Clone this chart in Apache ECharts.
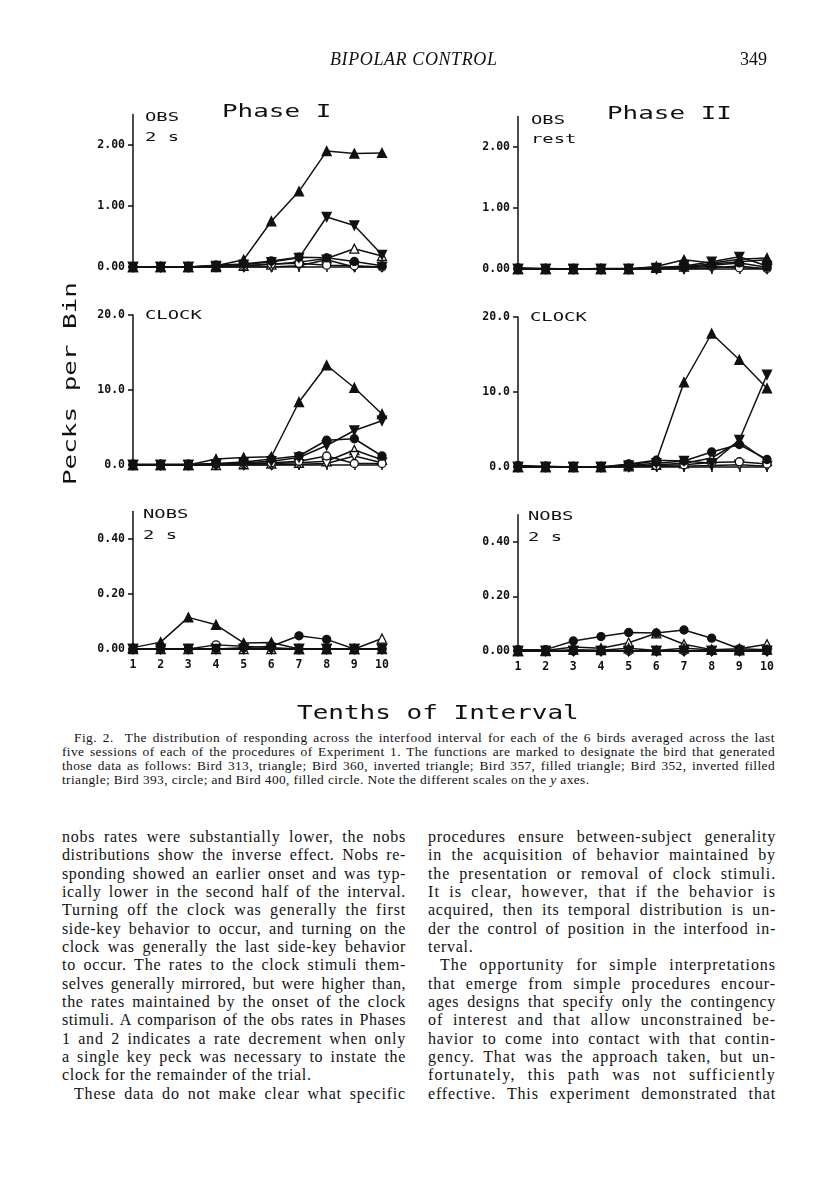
<!DOCTYPE html>
<html>
<head>
<meta charset="utf-8">
<script src="https://cdn.jsdelivr.net/npm/echarts@6/dist/echarts.min.js"></script>
<style>
  html, body { margin: 0; padding: 0; background: #fff; }
  .page { position: relative; width: 816px; height: 1200px; overflow: hidden; color: #111; font-family: "Liberation Serif", "DejaVu Serif", serif; }
  #chart { position: absolute; left: 0; top: 0; width: 816px; height: 730px; }
  .hdr { position: absolute; top: 49px; font-size: 18px; }
  .cap { position: absolute; left: 62px; top: 731px; width: 713px; font-size: 13.4px; line-height: 14px; }
  .col { position: absolute; top: 828px; font-size: 16px; line-height: 18.35px; }
  .col div, .cap div { white-space: nowrap; }
  .col div.jus, .cap div.jus { text-align: justify; text-align-last: justify; }
  .ind { text-indent: 12px; }
</style>
</head>
<body>
<div class="page">
  <div id="chart"></div>
  <div class="hdr" style="left:330px;font-style:italic;letter-spacing:0.6px;">BIPOLAR CONTROL</div>
  <div class="hdr" style="left:740px;">349</div>

  <div class="cap">
    <div class="ind">Fig. 2.&nbsp; The distribution of responding across the interfood interval for each of the 6 birds averaged across the last</div>
    <div>five sessions of each of the procedures of Experiment 1. The functions are marked to designate the bird that generated</div>
    <div>those data as follows: Bird 313, triangle; Bird 360, inverted triangle; Bird 357, filled triangle; Bird 352, inverted filled</div>
    <div class="end">triangle; Bird 393, circle; and Bird 400, filled circle. Note the different scales on the <i>y</i> axes.</div>
  </div>

  <div class="col" style="left:62px;width:344px;">
    <div>nobs rates were substantially lower, the nobs</div>
    <div>distributions show the inverse effect. Nobs re-</div>
    <div>sponding showed an earlier onset and was typ-</div>
    <div>ically lower in the second half of the interval.</div>
    <div>Turning off the clock was generally the first</div>
    <div>side-key behavior to occur, and turning on the</div>
    <div>clock was generally the last side-key behavior</div>
    <div>to occur. The rates to the clock stimuli them-</div>
    <div>selves generally mirrored, but were higher than,</div>
    <div>the rates maintained by the onset of the clock</div>
    <div>stimuli. A comparison of the obs rates in Phases</div>
    <div>1 and 2 indicates a rate decrement when only</div>
    <div>a single key peck was necessary to instate the</div>
    <div class="end">clock for the remainder of the trial.</div>
    <div class="ind">These data do not make clear what specific</div>
  </div>

  <div class="col" style="left:428px;width:348px;">
    <div>procedures ensure between-subject generality</div>
    <div>in the acquisition of behavior maintained by</div>
    <div>the presentation or removal of clock stimuli.</div>
    <div>It is clear, however, that if the behavior is</div>
    <div>acquired, then its temporal distribution is un-</div>
    <div>der the control of position in the interfood in-</div>
    <div class="end">terval.</div>
    <div class="ind">The opportunity for simple interpretations</div>
    <div>that emerge from simple procedures encour-</div>
    <div>ages designs that specify only the contingency</div>
    <div>of interest and that allow unconstrained be-</div>
    <div>havior to come into contact with that contin-</div>
    <div>gency. That was the approach taken, but un-</div>
    <div>fortunately, this path was not sufficiently</div>
    <div>effective. This experiment demonstrated that</div>
  </div>
</div>

<script>
// fit each typeset line to its column: spread the slack over the letters, then justify.
// last lines of a paragraph keep the spacing of the line above them.
let lastLs = 0;
document.querySelectorAll('.col div, .cap div').forEach((el) => {
  if (el.classList.contains('end')) {
    el.style.letterSpacing = lastLs.toFixed(3) + 'px';
    return;
  }
  const r = document.createRange();
  r.selectNodeContents(el);
  const indent = el.classList.contains('ind') ? 12 : 0;
  const natural = r.getBoundingClientRect().width;
  const n = el.textContent.length;
  lastLs = 0.6 * (el.clientWidth - indent - natural) / n;
  el.style.letterSpacing = lastLs.toFixed(3) + 'px';
  el.classList.add('jus');
});

// tenths of the interfood interval
const bins = [1, 2, 3, 4, 5, 6, 7, 8, 9, 10];

// Phase I, OBS 2 s
const obsI_313 = [0, 0, 0, 0, 0.02, 0.04, 0.08, 0.14, 0.30, 0.18];
const obsI_360 = [0, 0, 0, 0, 0, 0, 0.02, 0.12, 0, 0];
const obsI_357 = [0, 0, 0, 0.02, 0.12, 0.75, 1.24, 1.90, 1.86, 1.87];
const obsI_352 = [0, 0, 0, 0.02, 0.04, 0.08, 0.15, 0.82, 0.68, 0.20];
const obsI_393 = [0, 0, 0, 0.01, 0.02, 0.05, 0.06, 0.03, 0.02, 0];
const obsI_400 = [0, 0, 0, 0.03, 0.05, 0.10, 0.16, 0.15, 0.09, 0.02];

// Phase II, OBS rest
const obsII_313 = [0, 0, 0, 0, 0, 0.02, 0.04, 0.08, 0.12, 0.15];
const obsII_360 = [0, 0, 0, 0, 0, 0, 0, 0.02, 0.05, 0];
const obsII_357 = [0, 0, 0, 0, 0, 0.04, 0.15, 0.10, 0.16, 0.18];
const obsII_352 = [0, 0, 0, 0, 0, 0.02, 0.05, 0.12, 0.20, 0.05];
const obsII_393 = [0, 0, 0, 0, 0, 0.01, 0.02, 0.04, 0.02, 0.01];
const obsII_400 = [0.02, 0.01, 0, 0.01, 0.01, 0.02, 0.03, 0.06, 0.10, 0.03];

// Phase I, CLOCK
const clkI_313 = [0, 0, 0, 0, 0.1, 0.2, 0.3, 0.5, 2.0, 0.7];
const clkI_360 = [0, 0, 0, 0, 0, 0, 0.1, 0.2, 1.2, 0.3];
const clkI_357 = [0, 0, 0, 0.8, 1.0, 1.1, 8.4, 13.3, 10.3, 6.8];
const clkI_352 = [0, 0, 0, 0.1, 0.3, 0.5, 1.0, 2.6, 4.6, 5.9];
const clkI_393 = [0, 0, 0, 0.1, 0.2, 0.3, 0.5, 1.2, 0.2, 0.2];
const clkI_400 = [0.1, 0.1, 0.1, 0.2, 0.4, 0.8, 1.2, 3.3, 3.5, 1.2];

// Phase II, CLOCK
const clkII_313 = [0, 0, 0, 0, 0.1, 0.3, 0.5, 1.2, 3.4, 0.8];
const clkII_360 = [0, 0, 0, 0, 0, 0.1, 0.1, 0.2, 0.3, 0.1];
const clkII_357 = [0, 0, 0, 0, 0.3, 0.8, 11.3, 17.8, 14.3, 10.5];
const clkII_352 = [0, 0, 0, 0, 0.2, 0.5, 0.8, 0.5, 3.6, 12.3];
const clkII_393 = [0, 0, 0, 0, 0.1, 0.2, 0.3, 0.6, 0.7, 0.4];
const clkII_400 = [0.2, 0.1, 0, 0, 0.4, 0.9, 0.8, 2.0, 3.0, 1.0];

// Phase I, NOBS 2 s
const nobsI_313 = [0, 0, 0, 0, 0, 0, 0, 0, 0, 0.038];
const nobsI_360 = [0, 0, 0, 0, 0, 0, 0, 0, 0, 0];
const nobsI_357 = [0.005, 0.025, 0.115, 0.088, 0.022, 0.024, 0, 0, 0, 0];
const nobsI_352 = [0, 0, 0, 0, 0, 0, 0, 0, 0, 0];
const nobsI_393 = [0, 0, 0, 0.015, 0.01, 0.005, 0, 0, 0, 0];
const nobsI_400 = [0, 0, 0, 0, 0.005, 0.01, 0.048, 0.035, 0, 0];

// Phase II, NOBS 2 s
const nobsII_313 = [0, 0.002, 0.015, 0.01, 0.03, 0.065, 0.025, 0.005, 0.008, 0.025];
const nobsII_360 = [0, 0, 0, 0, 0, 0, 0, 0, 0, 0];
const nobsII_357 = [0, 0, 0.005, 0.003, 0.01, 0.002, 0.01, 0.005, 0.002, 0.005];
const nobsII_352 = [0, 0, 0, 0, 0, 0, 0, 0, 0, 0];
const nobsII_393 = [0, 0, 0, 0, 0, 0, 0, 0, 0, 0];
const nobsII_400 = [0.005, 0.005, 0.037, 0.053, 0.068, 0.066, 0.077, 0.047, 0.008, 0.005];

// y tick values per row
const obsTicks = [0, 1, 2];
const clkTicks = [0, 10, 20];
const nobsTicks = [0, 0.2, 0.4];

// bird -> marker
const BIRDS = {
  313: { symbol: 'triangle', rot: 0, filled: false },
  360: { symbol: 'triangle', rot: 180, filled: false },
  393: { symbol: 'circle', rot: 0, filled: false },
  357: { symbol: 'triangle', rot: 0, filled: true },
  352: { symbol: 'triangle', rot: 180, filled: true },
  400: { symbol: 'circle', rot: 0, filled: true },
};

const panels = [
  { grid: { left: 133, top: 114.5, width: 249, height: 152.5 }, max: 2.5, ticks: obsTicks, dec: 2, xl: false,
    data: { 313: obsI_313, 360: obsI_360, 357: obsI_357, 352: obsI_352, 393: obsI_393, 400: obsI_400 } },
  { grid: { left: 518, top: 116.5, width: 249, height: 152.5 }, max: 2.5, ticks: obsTicks, dec: 2, xl: false,
    data: { 313: obsII_313, 360: obsII_360, 357: obsII_357, 352: obsII_352, 393: obsII_393, 400: obsII_400 } },
  { grid: { left: 133, top: 315, width: 249, height: 150 }, max: 20, ticks: clkTicks, dec: 1, xl: false,
    data: { 313: clkI_313, 360: clkI_360, 357: clkI_357, 352: clkI_352, 393: clkI_393, 400: clkI_400 } },
  { grid: { left: 518, top: 317, width: 249, height: 150 }, max: 20, ticks: clkTicks, dec: 1, xl: false,
    data: { 313: clkII_313, 360: clkII_360, 357: clkII_357, 352: clkII_352, 393: clkII_393, 400: clkII_400 } },
  { grid: { left: 133, top: 511.5, width: 249, height: 137.5 }, max: 0.5, ticks: nobsTicks, dec: 2, xl: true,
    data: { 313: nobsI_313, 360: nobsI_360, 357: nobsI_357, 352: nobsI_352, 393: nobsI_393, 400: nobsI_400 } },
  { grid: { left: 518, top: 514.75, width: 249, height: 136.25 }, max: 0.5, ticks: nobsTicks, dec: 2, xl: true,
    data: { 313: nobsII_313, 360: nobsII_360, 357: nobsII_357, 352: nobsII_352, 393: nobsII_393, 400: nobsII_400 } },
];

const MONO = '"DejaVu Sans Mono", monospace';
const labelFont = { fontFamily: MONO, fontWeight: 'bold', fontSize: 11.5, color: '#111' };

const grids = [], xAxes = [], yAxes = [], series = [];
panels.forEach((p, gi) => {
  grids.push(p.grid);
  xAxes.push({
    type: 'value', gridIndex: gi, min: 1, max: 10, interval: 1,
    axisLine: { show: true, lineStyle: { color: '#111', width: 1.5 } },
    axisTick: { show: true, length: 5, lineStyle: { color: '#111', width: 1.5 } },
    axisLabel: Object.assign({ show: p.xl, margin: 10 }, labelFont),
    splitLine: { show: false },
  });
  yAxes.push({
    type: 'value', gridIndex: gi, min: 0, max: p.max,
    axisLine: { show: true, lineStyle: { color: '#111', width: 1.5 } },
    axisTick: { show: true, length: 5, customValues: p.ticks, lineStyle: { color: '#111', width: 1.5 } },
    axisLabel: Object.assign({ margin: 8, customValues: p.ticks, formatter: (v) => v.toFixed(p.dec) }, labelFont),
    splitLine: { show: false },
  });
  Object.keys(BIRDS).forEach((b) => {
    const m = BIRDS[b];
    series.push({
      type: 'line', name: 'Bird ' + b, xAxisIndex: gi, yAxisIndex: gi,
      data: p.data[b].map((v, i) => [bins[i], v]),
      symbol: m.symbol, symbolRotate: m.rot,
      symbolSize: m.symbol === 'circle' ? 8 : 9,
      showAllSymbol: true,
      lineStyle: { color: '#111', width: 1.5 },
      itemStyle: { color: m.filled ? '#111' : '#fff', borderColor: '#111', borderWidth: 1.3 },
      z: m.filled ? 4 : 3,
    });
  });
});

// plotter-style text: monospace stretched horizontally
function txt(s, x, y, size, sx, rot) {
  return {
    type: 'text', x: x, y: y, scaleX: sx, originX: 0, originY: 0, rotation: rot || 0, silent: true,
    style: { text: s, font: size + 'px ' + MONO, fill: '#111', align: 'left', verticalAlign: 'middle' },
  };
}

const graphics = [
  txt('Phase I', 222, 112, 18, 1.44),
  txt('Phase II', 607, 114, 18, 1.44),
  txt('OBS', 145, 117.5, 13, 1.45),
  txt('2 s', 145, 138, 13, 1.45),
  txt('OBS', 531, 121, 13, 1.45),
  txt('rest', 531, 140, 13, 1.45),
  txt('CLOCK', 145, 316, 13, 1.45),
  txt('CLOCK', 530, 318, 13, 1.45),
  txt('NOBS', 143, 515, 13, 1.45),
  txt('2 s', 143, 535.5, 13, 1.45),
  txt('NOBS', 528, 516.5, 13, 1.45),
  txt('2 s', 528, 537.5, 13, 1.45),
  txt('Tenths of Interval', 297, 714, 20, 1.3),
  txt('Pecks per Bin', 71, 485, 18, 1.44, Math.PI / 2),
];

const chart = echarts.init(document.getElementById('chart'));
chart.setOption({
  animation: false,
  backgroundColor: 'transparent',
  grid: grids,
  xAxis: xAxes,
  yAxis: yAxes,
  series: series,
  graphic: graphics,
});
</script>
</body>
</html>
